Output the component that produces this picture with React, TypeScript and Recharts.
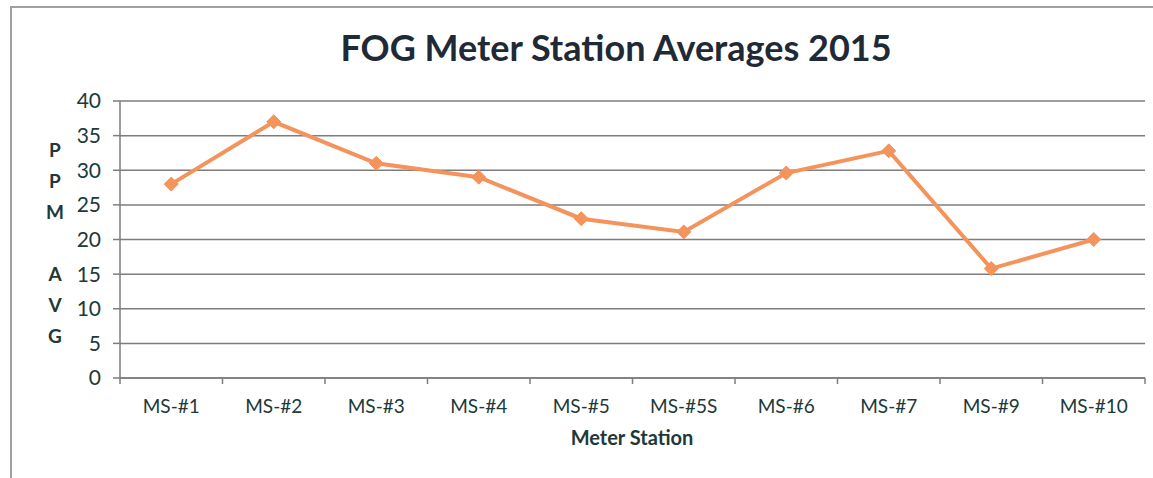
import { CartesianGrid, Label, Line, LineChart, XAxis, YAxis } from "recharts";

const stations = ["MS-#1", "MS-#2", "MS-#3", "MS-#4", "MS-#5", "MS-#5S", "MS-#6", "MS-#7", "MS-#9", "MS-#10"];
const ppmAvg = [28, 37, 31, 29, 23, 21.1, 29.6, 32.8, 15.8, 20];
const yTicks = [0, 5, 10, 15, 20, 25, 30, 35, 40];
const yLabelLetters = ["P", "P", "M", "", "A", "V", "G"];

const data = stations.map((name, i) => ({ pos: i + 0.5, name, value: ppmAvg[i] }));
// boundary ticks at integers, category labels at half steps
const xTicks = stations.flatMap((_, i) => [i, i + 0.5]).concat(stations.length);

const font = "Lato, 'Open Sans', sans-serif";
const inkColor = "#203838";
const gridColor = "#7d7d7d";
const lineColor = "#F4935B";

function XTick(props: any) {
  const { x, y, payload } = props;
  const v = payload.value as number;
  if (Number.isInteger(v)) {
    return <line x1={x} y1={y} x2={x} y2={y + 6} stroke={gridColor} strokeWidth={1.5} />;
  }
  return (
    <text x={x} y={y + 35} textAnchor="middle" fill={inkColor} fontSize={19} fontFamily={font}>
      {stations[Math.floor(v)]}
    </text>
  );
}

function Diamond(props: any) {
  const { cx, cy, index } = props;
  const r = 7;
  return (
    <path
      key={index}
      d={`M${cx},${cy - r} L${cx + r},${cy} L${cx},${cy + r} L${cx - r},${cy} Z`}
      fill={lineColor}
      stroke={lineColor}
    />
  );
}

export default function App() {
  return (
    <div style={{ position: "fixed", left: 0, top: 0, width: 1153, height: 478, background: "#fff" }}>
      <div
        style={{
          position: "absolute",
          left: 10,
          top: 6,
          right: 0,
          bottom: 0,
          borderLeft: "2px solid #a0a0a0",
          borderTop: "2px solid #a0a0a0"
        }}
      />
      <div style={{ position: "absolute", left: 0, top: 0 }}>
        <LineChart width={1153} height={478} data={data} margin={{ top: 101, right: 8, left: 0, bottom: 40 }}>
          <text x={616} y={61} textAnchor="middle" fontSize={36} fontWeight={700} fontFamily={font} fill="#1f2a36">
            FOG Meter Station Averages 2015
          </text>
          <CartesianGrid vertical={false} stroke={gridColor} strokeWidth={1.5} />
          <XAxis
            dataKey="pos"
            type="number"
            domain={[0, stations.length]}
            ticks={xTicks}
            interval={0}
            tick={<XTick />}
            tickLine={false}
            tickSize={0}
            tickMargin={0}
            height={60}
            stroke={gridColor}
            strokeWidth={1.5}
          >
            <Label
              content={() => (
                <text x={632} y={445} textAnchor="middle" fontSize={20} fontWeight={700} fontFamily={font} fill={inkColor}>
                  Meter Station
                </text>
              )}
            />
          </XAxis>
          <YAxis
            domain={[0, 40]}
            ticks={yTicks}
            width={120}
            tickSize={7}
            tickMargin={12}
            stroke={gridColor}
            strokeWidth={1.5}
            tick={{ fill: inkColor, fontSize: 21, fontFamily: font }}
          >
            <Label
              content={() => (
                <text x={55} y={157} textAnchor="middle" fontSize={19} fontWeight={700} fontFamily={font} fill={inkColor}>
                  {yLabelLetters.map((ch, i) => (
                    <tspan key={i} x={55} dy={i === 0 ? 0 : 31}>
                      {ch || "\u00a0"}
                    </tspan>
                  ))}
                </text>
              )}
            />
          </YAxis>
          <Line
            dataKey="value"
            stroke={lineColor}
            strokeWidth={4}
            dot={Diamond}
            activeDot={false}
            isAnimationActive={false}
          />
        </LineChart>
      </div>
    </div>
  );
}
